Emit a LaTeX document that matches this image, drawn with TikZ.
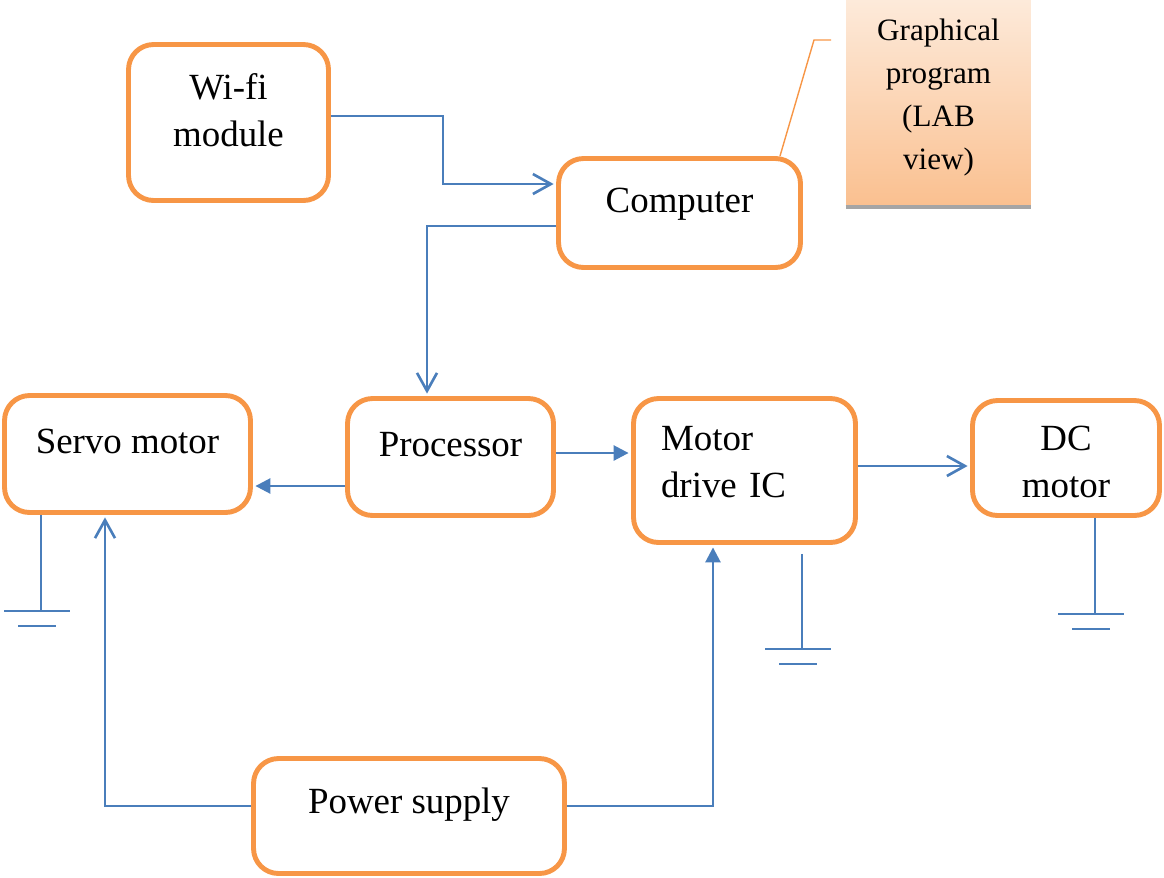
\documentclass[tikz,border=0pt]{standalone}
\usepackage{fontspec}
\setmainfont{Liberation Serif}
\usetikzlibrary{arrows.meta}

\definecolor{boxorange}{HTML}{F79646}
\definecolor{wireblue}{HTML}{4A7EBB}
\definecolor{notetop}{HTML}{FDEADA}
\definecolor{notebottom}{HTML}{FAC090}
\definecolor{noteline}{HTML}{A5A5A5}

\begin{document}
\begin{tikzpicture}[x=0.02cm, y=-0.02cm,
    block/.style={draw=boxorange, line width=2.8pt, rounded corners=0.5cm, inner sep=2pt,
        align=center, font=\fontsize{21}{27}\selectfont, text depth=14.5pt},
    wire/.style={draw=wireblue, line width=1.5pt},
    vee/.style={wire, shorten >=1.4pt, -{Straight Barb[length=0.36cm,width=0.4cm]}},
    tri/.style={wire, shorten >=1.4pt, -{Triangle[length=0.3cm,width=0.3cm]}},
    note/.style={top color=notetop, bottom color=notebottom, inner sep=0pt, align=center,
        font=\fontsize{17.7}{24.4}\selectfont}]

    \useasboundingbox (0,0) rectangle (1164,877);

    % Blocks
    \node[block, minimum width=4cm, minimum height=3.12cm] (wifi) at (228.5,122.5) {Wi-fi\\module};
    \node[block, minimum width=4.84cm, minimum height=2.18cm] (computer) at (679.5,213) {Computer};
    \node[block, minimum width=4.92cm, minimum height=2.34cm] (servo) at (127.5,454) {Servo motor};
    \node[block, minimum width=4.12cm, minimum height=2.34cm] (processor) at (450.5,457) {Processor};
    \node[block, minimum width=4.44cm, minimum height=2.88cm, align=left, text width=3.34cm, text depth=37pt] (driver) at (744.5,470.5) {Motor\\drive IC};
    \node[block, minimum width=3.74cm, minimum height=2.3cm, text height=46pt, text depth=0.5pt] (dcmotor) at (1066,458) {DC\\motor};
    \node[block, minimum width=6.22cm, minimum height=2.3cm, text depth=18pt] (power) at (409,816) {Power supply};

    % Callout for the software
    \node[note, minimum width=3.7cm, minimum height=4.1cm, text depth=9.5pt] (note) at (938.5,102.5) {Graphical\\program\\(LAB\\view)};
    \draw[noteline, line width=2.3pt] ([yshift=-1pt]note.south west) -- ([yshift=-1pt]note.south east);
    \coordinate (pin) at (831,40);
    \draw[boxorange, line width=0.8pt] (pin) -- ++(-17,0) -- (computer.north -| 780,0);

    % Signal lines
    \draw[vee] (wifi.east |- 0,116) -- (443,116) |- (computer.west |- 0,184);
    \draw[vee] (computer.west |- 0,226) -| (processor.north -| 427,0);
    \draw[tri] (processor.west |- 0,486) -- (servo.east |- 0,486);
    \draw[tri] (processor.east |- 0,453) -- (driver.west |- 0,453);
    \draw[vee] (driver.east |- 0,466) -- (dcmotor.west |- 0,466);

    % Supply lines
    \draw[vee] (power.west |- 0,806) -| (servo.south -| 105,0);
    \draw[tri] (power.east |- 0,806) -| (driver.south -| 713,0);

    % Grounds
    \coordinate (gnd1) at (41,611);
    \coordinate (gnd2) at (802,649);
    \coordinate (gnd3) at (1095,614);
    \draw[wire] (servo.south -| gnd1) -- (gnd1) ++(-37,0) -- ++(66,0) ++(-52,15) -- ++(38,0);
    \draw[wire] (driver.south -| gnd2) ++(0,9) -- (gnd2) ++(-37,0) -- ++(66,0) ++(-52,15) -- ++(38,0);
    \draw[wire] (dcmotor.south -| gnd3) -- (gnd3) ++(-37,0) -- ++(66,0) ++(-52,15) -- ++(38,0);

\end{tikzpicture}
\end{document}
